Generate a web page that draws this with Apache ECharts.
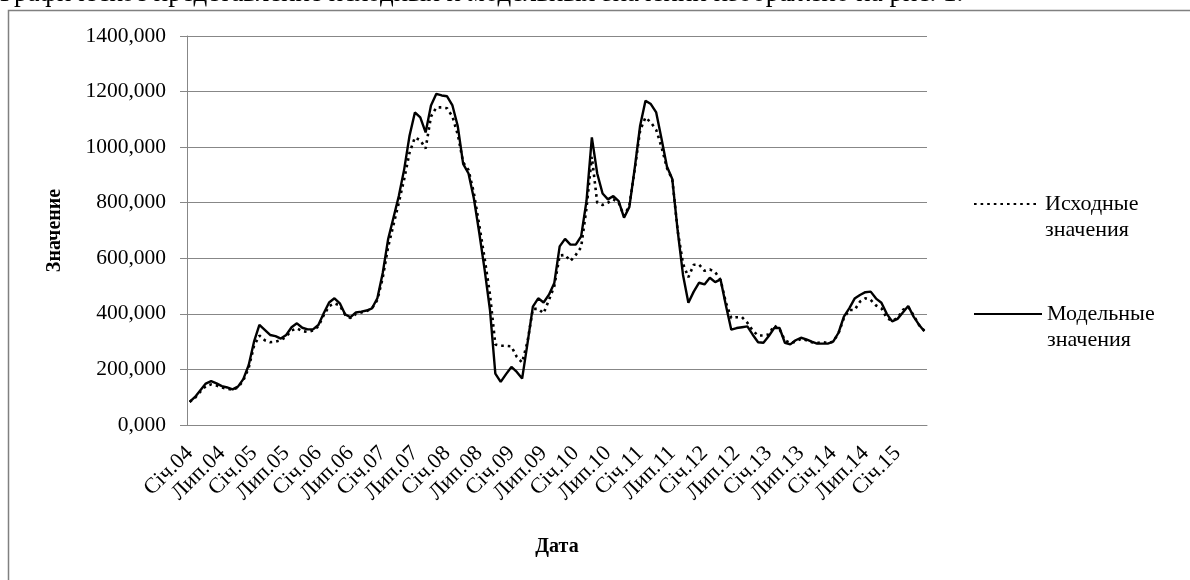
<!DOCTYPE html>
<html><head><meta charset="utf-8">
<script src="https://cdn.jsdelivr.net/npm/echarts@6/dist/echarts.min.js"></script>
<style>html,body{margin:0;padding:0;background:#fff}#c{width:1190px;height:580px}</style>
</head><body><div id="c"></div>
<script>
const monthNames = ['Січ','Лют','Бер','Кві','Тра','Чер','Лип','Сер','Вер','Жов','Лис','Гру'];
const startYear = 2004;
const monthCount = 138;
const categories = [];
for (let k = 0; k < monthCount; k++) {
  const y = startYear + Math.floor(k / 12);
  categories.push(monthNames[k % 12] + '.' + String(y % 100).padStart(2, '0'));
}
const seriesNames = ['Исходные значения', 'Модельные значения'];
const originalValues = [
  83, 98, 120, 140, 146, 142, 135, 130, 127, 135, 160, 205,
  285, 322, 305, 298, 300, 305, 318, 340, 348, 338, 335, 340,
  355, 395, 428, 438, 430, 396, 385, 400, 405, 410, 420, 450,
  530, 640, 720, 800, 885, 980, 1035, 1025, 995, 1110, 1143, 1143,
  1140, 1110, 1045, 945, 918, 835, 720, 600, 470, 290, 285, 285,
  283, 245, 225, 300, 418, 418, 402, 450, 500, 610, 612, 590,
  612, 640, 780, 965, 800, 792, 800, 812, 800, 752, 790, 920,
  1060, 1107, 1089, 1062, 1000, 925, 884, 700, 580, 532, 577, 577,
  555, 560, 550, 523, 440, 385, 388, 388, 368, 340, 322, 322,
  326, 358, 345, 305, 295, 300, 310, 305, 298, 295, 298, 295,
  300, 330, 385, 414, 414, 444, 456, 450, 430, 420, 385, 375,
  385, 414, 425, 395, 360, 340
];
const modelValues = [
  83, 101, 125, 149, 158, 150, 140, 135, 128, 138, 165, 215,
  300, 360, 342, 324, 320, 311, 324, 352, 366, 350, 344, 344,
  360, 402, 441, 456, 438, 398, 388, 405, 408, 412, 420, 456,
  547, 668, 746, 824, 920, 1041, 1125, 1107, 1053, 1150, 1192, 1186,
  1183, 1150, 1075, 940, 905, 815, 692, 559, 414, 185, 155, 183,
  209, 191, 167, 294, 426, 456, 441, 469, 511, 643, 670, 649,
  649, 679, 806, 1035, 905, 833, 812, 824, 806, 746, 785, 925,
  1077, 1167, 1155, 1125, 1029, 930, 885, 700, 540, 440, 480, 512,
  506, 530, 514, 524, 430, 343, 349, 352, 355, 325, 298, 296,
  320, 349, 349, 296, 290, 305, 314, 308, 300, 293, 293, 293,
  300, 332, 390, 420, 455, 468, 478, 480, 455, 440, 400, 373,
  382, 405, 428, 390, 361, 337
];
const yMin = 0, yMax = 1400, yStep = 200;
const axisTitleY = 'Значение';
const axisTitleX = 'Дата';
const captionText = 'Графическое представление исходных и модельных значений изображено на рис. 1.';

const serif = '"Liberation Serif", "Times New Roman", serif';
const gridColor = '#878787';
const chart = echarts.init(document.getElementById('c'), null, {renderer: 'canvas'});
const legendText = name => '{t|}\n{t|' + name.replace(' ', '}\n{t|') + '}';
const legendTextStyle = {fontFamily: serif, fontSize: 22, color: '#000', lineHeight: 26, align: 'left',
  rich: {t: {fontFamily: serif, fontSize: 22, color: '#000', lineHeight: 26, align: 'left'}}};
chart.setOption({
  animation: false,
  backgroundColor: '#fff',
  graphic: [
    {type: 'text', left: 0, top: -20, z: 1, style: {text: captionText, font: '27px ' + serif, fill: '#000'}},
    {type: 'rect', shape: {x: 8.5, y: 10.5, width: 1300, height: 700}, style: {fill: 'none', stroke: '#808080', lineWidth: 1.5}, z: 2}
  ],
  grid: {left: 187, top: 36, right: 263, bottom: 155, containLabel: false},
  legend: [
    {data: [seriesNames[0]], orient: 'vertical', left: 968, top: 160, itemWidth: 66, itemHeight: 10, itemGap: 8,
     itemStyle: {opacity: 0}, formatter: legendText, textStyle: legendTextStyle},
    {data: [seriesNames[1]], orient: 'vertical', left: 968, top: 270, itemWidth: 68, itemHeight: 10, itemGap: 8,
     itemStyle: {opacity: 0}, formatter: legendText, textStyle: legendTextStyle}
  ],
  xAxis: {
    type: 'category', data: categories, boundaryGap: true,
    name: axisTitleX, nameLocation: 'middle', nameGap: 112,
    nameTextStyle: {fontFamily: serif, fontSize: 20, fontWeight: 'bold', color: '#000'},
    axisLine: {lineStyle: {color: gridColor, width: 1}},
    axisTick: {interval: 5, length: 7, lineStyle: {color: gridColor}},
    axisLabel: {interval: 5, rotate: 45, margin: 25, fontFamily: serif, fontSize: 22, color: '#000'},
    splitLine: {show: false}
  },
  yAxis: {
    type: 'value', min: yMin, max: yMax, interval: yStep,
    name: axisTitleY, nameLocation: 'middle', nameGap: 122, nameRotate: 90,
    nameTextStyle: {fontFamily: serif, fontSize: 20, fontWeight: 'bold', color: '#000'},
    axisLine: {show: true, lineStyle: {color: gridColor, width: 1}},
    axisTick: {show: true, length: 7, lineStyle: {color: gridColor}},
    axisLabel: {margin: 21, fontFamily: serif, fontSize: 21.5, color: '#000',
      formatter: v => v.toFixed(3).replace('.', ',')},
    splitLine: {lineStyle: {color: gridColor, width: 1}}
  },
  series: [
    {name: seriesNames[0], type: 'line', data: originalValues, symbol: 'none', z: 3,
     lineStyle: {color: '#000', width: 2.6, type: [2.6, 4], cap: 'butt'}, itemStyle: {color: '#000'}},
    {name: seriesNames[1], type: 'line', data: modelValues, symbol: 'none', z: 4,
     lineStyle: {color: '#000', width: 2.4}, itemStyle: {color: '#000'}}
  ]
});
</script></body></html>
